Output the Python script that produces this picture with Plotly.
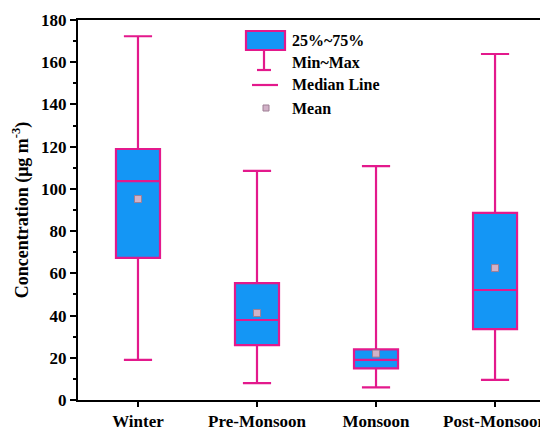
import plotly.graph_objects as go

seasons = ["Winter", "Pre-Monsoon", "Monsoon", "Post-Monsoon"]
min_vals = [19, 8, 6, 9.5]
q1_vals = [67.3, 26, 15, 33.6]
median_vals = [103.7, 37.9, 19, 52.1]
q3_vals = [118.9, 55.4, 24, 88.6]
max_vals = [172.3, 108.5, 110.8, 163.9]
mean_vals = [95.2, 41.2, 22, 62.5]

xpos = list(range(len(seasons)))
LINE = "#E3198C"
FILL = "#1496F5"
FONT = "Liberation Serif"

fig = go.Figure()
fig.add_trace(go.Box(
    x=xpos, q1=q1_vals, median=median_vals, q3=q3_vals,
    lowerfence=min_vals, upperfence=max_vals,
    width=0.37, whiskerwidth=0.64,
    fillcolor=FILL, line=dict(color=LINE, width=2.2),
    boxpoints=False, showlegend=False, hoverinfo="skip",
))
fig.add_trace(go.Scatter(
    x=xpos, y=mean_vals, mode="markers",
    marker=dict(symbol="square", size=7, color="#D2B2C8",
                line=dict(color="#9E7E94", width=1)),
    showlegend=False, hoverinfo="skip",
))

# page has an 8px body margin; work in window pixels
OFF = 8
W, H = 540, 420
ml, mr, mt, mb = 78 - OFF, 0, 20 - OFF, 28
pw, ph = W - ml - mr, H - mt - mb
def px(x):
    return (x - OFF - ml) / pw
def py(y):
    return 1 - (y - OFF - mt) / ph

shapes = [
    dict(type="rect", xref="paper", yref="paper", x0=px(246), x1=px(285), y0=py(50), y1=py(31),
         fillcolor=FILL, line=dict(color=LINE, width=2.2)),
    dict(type="line", xref="paper", yref="paper", x0=px(264), x1=px(264), y0=py(50), y1=py(70),
         line=dict(color=LINE, width=2.2)),
    dict(type="line", xref="paper", yref="paper", x0=px(257), x1=px(271), y0=py(70), y1=py(70),
         line=dict(color=LINE, width=2.2)),
    dict(type="line", xref="paper", yref="paper", x0=px(252), x1=px(278), y0=py(85), y1=py(85),
         line=dict(color=LINE, width=2.2)),
    dict(type="rect", xref="paper", yref="paper", x0=px(263), x1=px(269), y0=py(111), y1=py(105),
         fillcolor="#D2B2C8", line=dict(color="#9E7E94", width=1)),
]
labels = [("25%~75%", 41), ("Min~Max", 62), ("Median Line", 85), ("Mean", 108)]
annotations = [
    dict(text=t, xref="paper", yref="paper", x=px(290), y=py(yy), xanchor="left", yanchor="middle",
         showarrow=False, font=dict(family=FONT, size=16, color="black", weight="bold"))
    for t, yy in labels
]

fig.update_layout(
    width=W, height=H,
    margin=dict(l=ml, r=mr, t=mt, b=mb, autoexpand=False),
    plot_bgcolor="white", paper_bgcolor="white",
    font=dict(family=FONT, size=17, color="black", weight="bold"),
    shapes=shapes, annotations=annotations,
    xaxis=dict(
        range=[-0.504, 3.445], tickvals=xpos, ticktext=seasons,
        showline=True, linecolor="black", linewidth=2, mirror=True,
        ticks="outside", ticklen=5, tickwidth=2, tickcolor="black",
        showgrid=False, zeroline=False, automargin=False,
        tickfont=dict(family=FONT, size=17, weight="bold"),
    ),
    yaxis=dict(
        range=[0, 180], tickvals=list(range(0, 181, 20)),
        showline=True, linecolor="black", linewidth=2,
        ticks="outside", ticklen=6, tickwidth=2, tickcolor="black",
        minor=dict(ticks="outside", ticklen=3, tickwidth=1.5, tickcolor="black", dtick=10),
        showgrid=False, zeroline=False, automargin=False,
        tickfont=dict(family=FONT, size=17, weight="bold"),
        title=dict(text="Concentration (μg m<sup>-3</sup>)", standoff=8,
                   font=dict(family=FONT, size=18, weight="bold")),
    ),
)

fig.write_html("out.html")
